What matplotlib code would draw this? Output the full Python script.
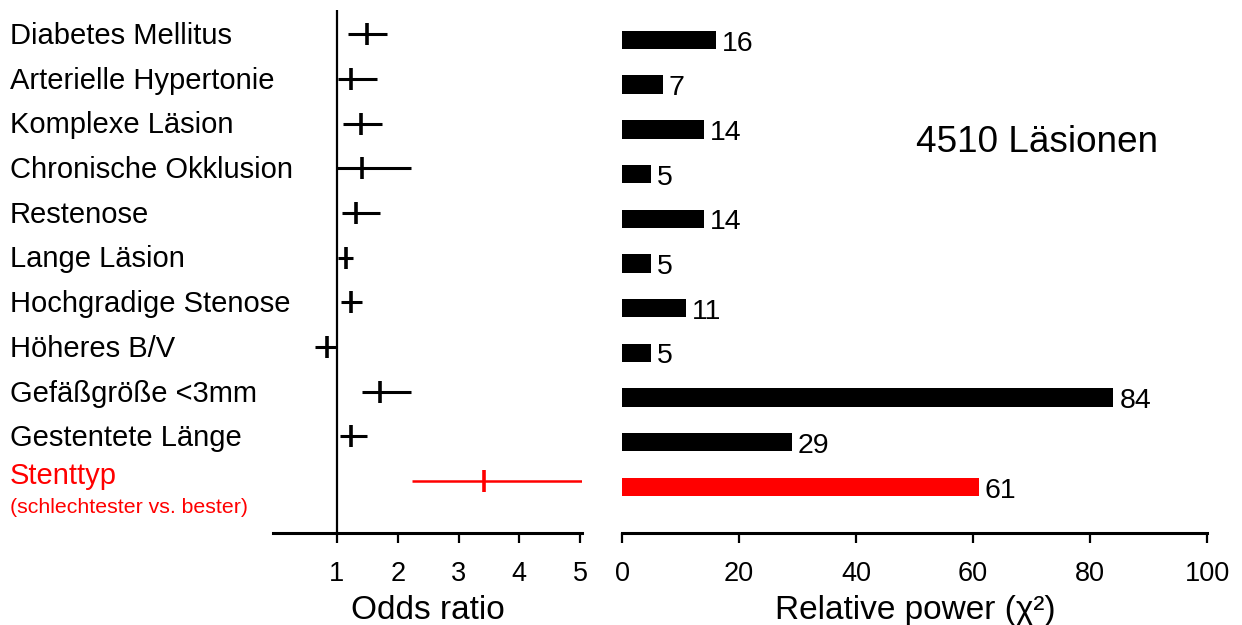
import numpy as np
import matplotlib.pyplot as plt
from matplotlib.transforms import blended_transform_factory

plt.rcParams["font.family"] = ["Liberation Sans", "DejaVu Sans"]

# Risk factors (top to bottom)
factors = [
    "Diabetes Mellitus",
    "Arterielle Hypertonie",
    "Komplexe Läsion",
    "Chronische Okklusion",
    "Restenose",
    "Lange Läsion",
    "Hochgradige Stenose",
    "Höheres B/V",
    "Gefäßgröße <3mm",
    "Gestentete Länge",
    "Stenttyp",
]
subtitle = "(schlechtester vs. bester)"

# Odds ratio with confidence interval
odds = [1.49, 1.23, 1.40, 1.42, 1.31, 1.15, 1.24, 0.83, 1.71, 1.23, 3.42]
ci_low = [1.18, 1.02, 1.10, 1.01, 1.08, 1.02, 1.07, 0.64, 1.42, 1.05, 2.23]
ci_high = [1.82, 1.66, 1.75, 2.22, 1.71, 1.27, 1.42, 0.98, 2.22, 1.49, 5.03]

# Relative power (chi^2)
power = [16, 7, 14, 5, 14, 5, 11, 5, 84, 29, 61]

colors = ["black"] * 10 + ["red"]
rows = np.arange(len(factors))

fig = plt.figure(figsize=(12.42, 6.25), dpi=100)

# -------- Forest plot --------
ax1 = fig.add_axes([273 / 1242, 1 - 533 / 625, 309 / 1242, 523 / 625])
for y, o, lo, hi, c in zip(rows, odds, ci_low, ci_high, colors):
    lw = 2.2 if c == "black" else 1.8
    ax1.hlines(y, lo, hi, color=c, lw=lw)
    ax1.plot(o, y, marker="|", color=c, markersize=16, markeredgewidth=2.6)
ax1.axvline(1, color="black", lw=1.6)
ax1.set_xlim(-0.05, 5.03)
ax1.set_ylim(11.16, -0.54)
ax1.set_xticks([1, 2, 3, 4, 5])
ax1.set_yticks([])
for s in ["left", "right", "top"]:
    ax1.spines[s].set_visible(False)
ax1.spines["bottom"].set_linewidth(2.2)
ax1.tick_params(axis="x", length=7, width=1.6, labelsize=19.5, pad=13)
ax1.set_xlabel("Odds ratio", fontsize=24, labelpad=6)

# Row labels (the red one sits a bit higher to leave room for its subtitle)
label_tr = blended_transform_factory(fig.transFigure, ax1.transData)
for y, name, c in zip(rows, factors, colors):
    dy = 0.04 if c == "black" else -0.12
    ax1.text(10 / 1242, y + dy, name, transform=label_tr,
             ha="left", va="center", fontsize=21, color=c)
ax1.text(10 / 1242, rows[-1] + 0.58, subtitle, transform=label_tr,
         ha="left", va="center", fontsize=15.3, color="red")

# -------- Relative power bars --------
ax2 = fig.add_axes([620 / 1242, 1 - 533 / 625, 590 / 1242, 523 / 625])
ax2.barh(rows, power, height=0.41, color=colors)
for y, p in zip(rows, power):
    ax2.text(p + 1.0, y + 0.08, str(p), ha="left", va="center", fontsize=20.5)
ax2.set_xlim(-0.35, 100.5)
ax2.set_ylim(11.03, -0.67)
ax2.set_xticks([0, 20, 40, 60, 80, 100])
ax2.set_yticks([])
for s in ["left", "right", "top"]:
    ax2.spines[s].set_visible(False)
ax2.spines["bottom"].set_linewidth(2.2)
ax2.spines["bottom"].set_bounds(0, 100)
ax2.tick_params(axis="x", length=7, width=1.6, labelsize=19.5, pad=13)
ax2.set_xlabel("Relative power (χ²)", fontsize=24, labelpad=6)

fig.text(1037 / 1242, 1 - 143 / 625, "4510 Läsionen", ha="center", va="center", fontsize=26.6)

fig.savefig("out.png", dpi=100)
